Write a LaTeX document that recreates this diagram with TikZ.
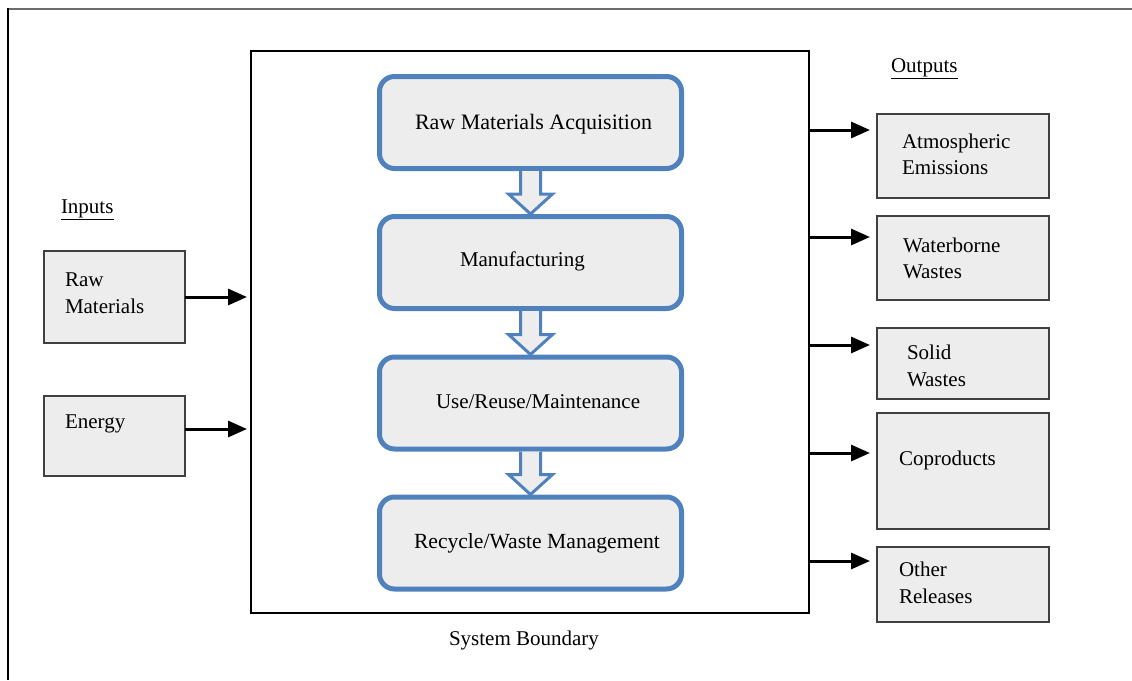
\documentclass[tikz,border=0pt]{standalone}
\usepackage{fontspec}
\setmainfont{Liberation Serif}
\usetikzlibrary{arrows.meta,calc}
\definecolor{stageblue}{HTML}{4F81BD}
\definecolor{boxgray}{HTML}{EDEDED}
\definecolor{framegray}{HTML}{6B6B6B}

% hollow block arrow from the bottom of one stage to the top of the next
\newcommand\stagearrow[2]{%
  \filldraw[hollow]
    ($(#1.south)+(-10,2.5)$) -- ($(#2.north)+(-10,-22.5)$) -- ($(#2.north)+(-22,-22.5)$)
    -- ($(#2.north)+(0,-2.5)$)
    -- ($(#2.north)+(22,-22.5)$) -- ($(#2.north)+(10,-22.5)$) -- ($(#1.south)+(10,2.5)$);
}

\begin{document}
\begin{tikzpicture}[x=1pt,y=-1pt,
  every node/.style={font=\fontsize{21}{26}\selectfont, inner sep=0pt, outer sep=0pt},
  stage/.style={draw=stageblue, line width=5pt, fill=boxgray, rounded corners=15pt,
                minimum width=302pt, minimum height=92pt},
  flowbox/.style={draw=black!75, line width=1.3pt, fill=boxgray},
  txt/.style={anchor=base west},
  flow/.style={line width=3pt, -{Triangle[length=19pt,width=16pt]}},
  hollow/.style={draw=stageblue, line width=3pt, fill=boxgray, line join=miter}
]
\useasboundingbox (0,0) rectangle (1132,680);

% page frame
\draw[framegray, line width=2pt] (7,9) -- (1132,9);
\draw[black, line width=1.5pt] (8,8) -- (8,680);

% system boundary
\node[draw=black, line width=1.2pt, minimum width=558pt, minimum height=562pt] (bound) at (530,332) {};
\node[txt] (boundtxt) at (449,645) {System Boundary};

% life-cycle stages
\node[stage] (s1) at (530.5,122.5) {};
\node[stage] (s2) at (530.5,262.5) {};
\node[stage] (s3) at (530.5,403) {};
\node[stage] (s4) at (530.5,543) {};
\node[txt, font=\fontsize{22}{26}\selectfont] (s1txt) at (415,129) {Raw Materials Acquisition};
\node[txt] (s2txt) at (460,266) {Manufacturing};
\node[txt] (s3txt) at (436,408) {Use/Reuse/Maintenance};
\node[txt, font=\fontsize{21.6}{26}\selectfont] (s4txt) at (414,548) {Recycle/Waste Management};

\stagearrow{s1}{s2}
\stagearrow{s2}{s3}
\stagearrow{s3}{s4}

% inputs
\node[txt] (intitle) at (61,213) {\underline{Inputs}};
\node[flowbox, minimum width=141pt, minimum height=92pt] (raw) at (114.5,297) {};
\node[flowbox, minimum width=141pt, minimum height=80pt] (energy) at (114.5,436) {};
\node[txt] (rawa) at (65,286) {Raw};
\node[txt] (rawb) at (65,313) {Materials};
\node[txt] (energytxt) at (65,428) {Energy};

\draw[flow, shorten >=4pt] (raw.east) -- (bound.west |- raw.east);
\draw[flow, shorten >=4pt] (energy.east |- 0,429) -- (bound.west |- 0,429);

% outputs
\node[txt] (outtitle) at (891,72) {\underline{Outputs}};
\node[flowbox, minimum width=172pt, minimum height=84pt] (atm) at (963,156) {};
\node[flowbox, minimum width=172pt, minimum height=84pt] (water) at (963,258) {};
\node[flowbox, minimum width=172pt, minimum height=71pt] (solid) at (963,363.5) {};
\node[flowbox, minimum width=172pt, minimum height=116pt] (copro) at (963,471) {};
\node[flowbox, minimum width=172pt, minimum height=75pt] (other) at (963,584.5) {};

\node[txt] (atma) at (902,148) {Atmospheric};
\node[txt] (atmb) at (902,174) {Emissions};
\node[txt] (watera) at (903,252) {Waterborne};
\node[txt] (waterb) at (903,278) {Wastes};
\node[txt] (solida) at (907,359) {Solid};
\node[txt] (solidb) at (907,386) {Wastes};
\node[txt] (coprotxt) at (899,465) {Coproducts};
\node[txt] (othera) at (899,576) {Other};
\node[txt] (otherb) at (899,603) {Releases};

\draw[flow, shorten >=7pt] (bound.east |- 0,130) -- (atm.west |- 0,130);
\draw[flow, shorten >=7pt] (bound.east |- 0,237) -- (water.west |- 0,237);
\draw[flow, shorten >=7pt] (bound.east |- 0,345) -- (solid.west |- 0,345);
\draw[flow, shorten >=7pt] (bound.east |- 0,453) -- (copro.west |- 0,453);
\draw[flow, shorten >=7pt] (bound.east |- 0,561) -- (other.west |- 0,561);
\end{tikzpicture}
\end{document}
